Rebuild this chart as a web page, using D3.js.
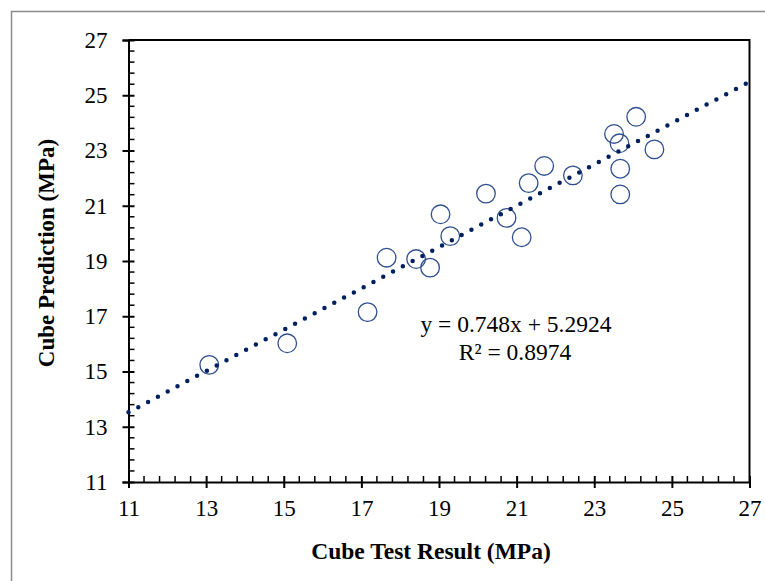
<!DOCTYPE html>
<html>
<head>
<meta charset="utf-8">
<script src="https://cdn.jsdelivr.net/npm/d3@7"></script>
<style>
  html, body { margin: 0; padding: 0; background: #fff; }
  svg text { font-family: "Liberation Serif", "Times New Roman", serif; }
</style>
</head>
<body>
<svg id="chart" width="765" height="581"></svg>
<script>
// ---- data ----
const testResult = [13.08, 15.09, 17.16, 17.65, 18.41, 18.77, 19.04, 19.29, 20.21, 20.74,
                    21.13, 21.31, 21.71, 22.45, 23.51, 23.65, 23.67, 23.67, 24.08, 24.55];
const prediction = [15.24, 16.02, 17.15, 19.12, 19.07, 18.76, 20.69, 19.90, 21.44, 20.56,
                    19.86, 21.82, 22.44, 22.10, 23.60, 23.26, 22.34, 21.41, 24.22, 23.04];
const tickValues = [11, 13, 15, 17, 19, 21, 23, 25, 27];
const trendSlope = 0.748;
const trendIntercept = 5.2924;
const equationLabel = "y = 0.748x + 5.2924";
const r2Label = "R² = 0.8974";
const xTitle = "Cube Test Result (MPa)";
const yTitle = "Cube Prediction (MPa)";

// ---- layout ----
const svg = d3.select("#chart");
const pLeft = 128.5, pRight = 749.5, pTop = 40, pBottom = 482;
const serif = "Liberation Serif, Times New Roman, serif";

// outer chart border
svg.append("rect")
  .attr("x", 11.5).attr("y", 11.5)
  .attr("width", 780).attr("height", 600)
  .attr("fill", "none").attr("stroke", "#8c8c8c").attr("stroke-width", 1.5);

const x = d3.scaleLinear().domain([11, 27]).range([pLeft, pRight]);
const y = d3.scaleLinear().domain([11, 27]).range([pBottom, pTop]);

// plot area border (top and right)
svg.append("path")
  .attr("d", `M${pLeft},${pTop}H${pRight}V${pBottom}`)
  .attr("fill", "none").attr("stroke", "#000").attr("stroke-width", 2);

const minorVals = d3.range(11, 27.0001, 0.4).filter(v => Math.abs((v - 11) / 2 - Math.round((v - 11) / 2)) > 1e-6);

// x axis
const gx = svg.append("g").attr("transform", `translate(0,${pBottom})`);
gx.call(d3.axisBottom(x).tickValues(tickValues).tickSize(6).tickPadding(12).tickFormat(d3.format("d")));
gx.select(".domain").attr("stroke", "#000").attr("stroke-width", 2);
gx.selectAll(".tick line").attr("y1", -6).attr("y2", 6).attr("stroke-width", 2);
gx.selectAll(".tick text").attr("font-size", 23).attr("fill", "#000").attr("font-family", serif);
gx.selectAll(".minor").data(minorVals).enter().append("line")
  .attr("x1", d => x(d)).attr("x2", d => x(d)).attr("y1", 0).attr("y2", -6)
  .attr("stroke", "#000").attr("stroke-width", 1.5);

// y axis
const gy = svg.append("g").attr("transform", `translate(${pLeft},0)`);
gy.call(d3.axisLeft(y).tickValues(tickValues).tickSize(6).tickPadding(15).tickFormat(d3.format("d")));
gy.select(".domain").attr("stroke", "#000").attr("stroke-width", 2);
gy.selectAll(".tick line").attr("x1", -6).attr("x2", 6).attr("stroke-width", 2);
gy.selectAll(".tick text").attr("font-size", 23).attr("fill", "#000").attr("font-family", serif);
gy.selectAll(".minor").data(minorVals).enter().append("line")
  .attr("y1", d => y(d)).attr("y2", d => y(d)).attr("x1", 0).attr("x2", 6)
  .attr("stroke", "#000").attr("stroke-width", 1.5);

// points
svg.append("g").selectAll("circle")
  .data(testResult.map((v, i) => [v, prediction[i]]))
  .enter().append("circle")
  .attr("cx", d => x(d[0])).attr("cy", d => y(d[1])).attr("r", 9.3)
  .attr("fill", "none").attr("stroke", "#2f4f8f").attr("stroke-width", 1.3);

// trendline
const tl = [11, 27].map(v => [v, trendSlope * v + trendIntercept]);
svg.append("line")
  .attr("x1", x(tl[0][0])).attr("y1", y(tl[0][1]))
  .attr("x2", x(tl[1][0])).attr("y2", y(tl[1][1]))
  .attr("stroke", "#002060").attr("stroke-width", 4.5)
  .attr("stroke-linecap", "round").attr("stroke-dasharray", "0 11.1");

// equation
svg.append("text").attr("x", 516).attr("y", 332).attr("text-anchor", "middle")
  .attr("font-size", 23.5).attr("fill", "#000").text(equationLabel);
svg.append("text").attr("x", 515).attr("y", 360).attr("text-anchor", "middle")
  .attr("font-size", 23.5).attr("fill", "#000").text(r2Label);

// axis titles
svg.append("text").attr("x", 431).attr("y", 559).attr("text-anchor", "middle")
  .attr("font-size", 23.5).attr("font-weight", "bold").attr("fill", "#000").text(xTitle);
svg.append("text").attr("transform", "translate(54,253) rotate(-90)").attr("text-anchor", "middle")
  .attr("font-size", 23).attr("font-weight", "bold").attr("fill", "#000").text(yTitle);
</script>
</body>
</html>
